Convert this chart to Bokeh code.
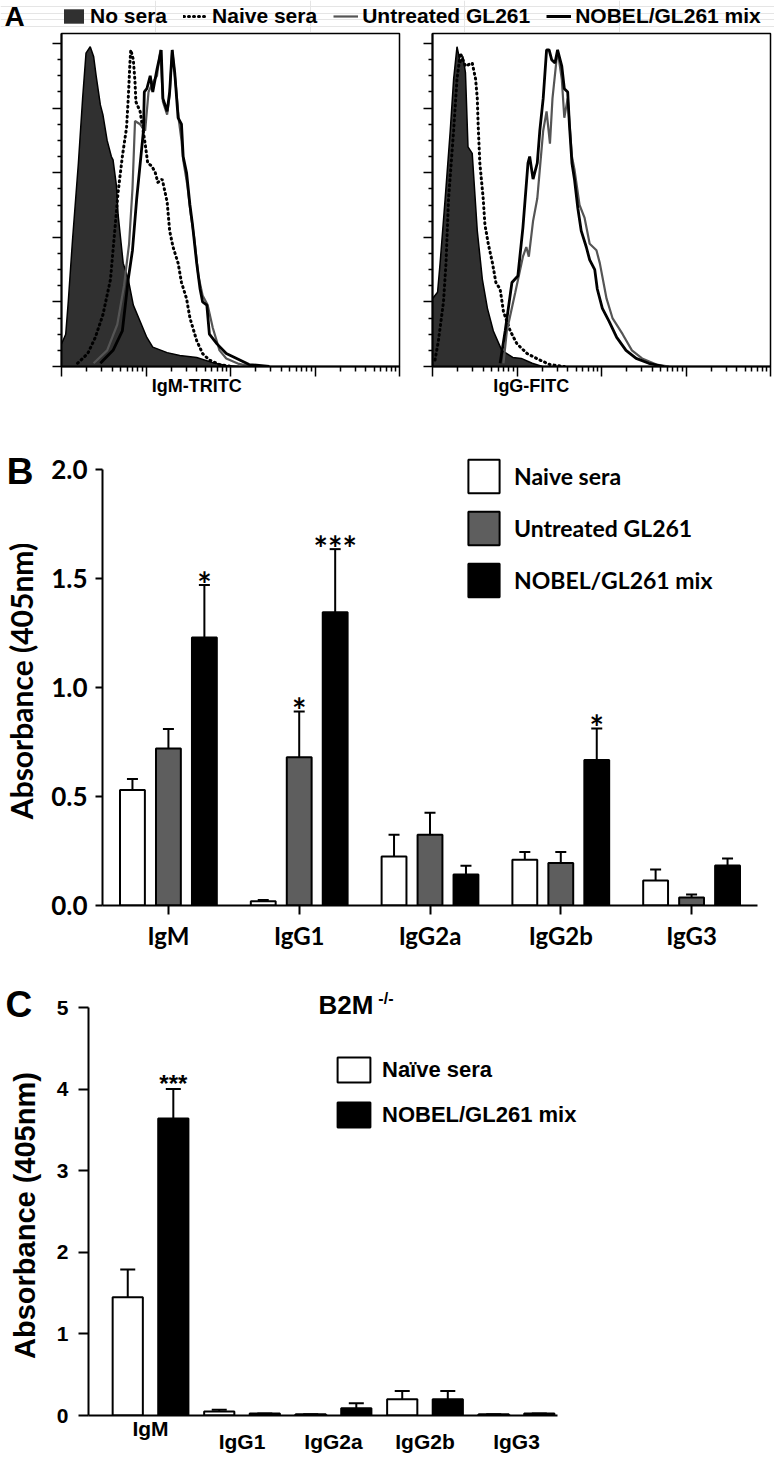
import numpy as np
from bokeh.plotting import figure
from bokeh.layouts import column, row
from bokeh.models import (ColumnDataSource, FixedTicker, Label, Legend, LegendItem,
                          Whisker, TeeHead, NumeralTickFormatter, CustomJSTickFormatter)
from bokeh.core.properties import value
from bokeh.embed import file_html
from bokeh.resources import INLINE

# ---------------- Panel A data (log10 fluorescence decade, % of max) ----------------
igm_nosera_dec = [0.0, 0.05, 0.08, 0.13, 0.2, 0.25, 0.29, 0.34, 0.38, 0.41, 0.46, 0.49, 0.54, 0.59, 0.61,
                  0.65, 0.67, 0.73, 0.79, 0.85, 0.93, 1.01, 1.08, 1.25, 1.4, 1.6, 1.79, 1.95, 2.1]
igm_nosera_pct = [7, 10, 20, 39, 63, 83, 97, 99, 96, 90, 81, 78, 70, 65, 64,
                  56, 47, 32, 27, 19, 14, 9, 6, 4.3, 3.4, 2.8, 1.2, 0.3, 0]
igm_naive_dec = [0.19, 0.31, 0.4, 0.49, 0.58, 0.61, 0.67, 0.72, 0.77, 0.79, 0.81, 0.82, 0.85, 0.87, 0.88,
                 0.93, 0.99, 1.02, 1.07, 1.11, 1.14, 1.19, 1.2, 1.25, 1.28, 1.32, 1.38, 1.42, 1.48, 1.52,
                 1.6, 1.67, 1.75, 1.87, 2.02]
igm_naive_pct = [1, 4, 9, 16, 27, 36, 54, 65, 74, 83, 94, 98, 95, 88, 82,
                 79, 69, 63, 62, 60, 57, 58, 57, 51, 42, 37, 32, 26, 21, 15,
                 8, 4, 2, 0.6, 0]
igm_untr_dec = [0.38, 0.54, 0.66, 0.74, 0.8, 0.84, 0.87, 0.93, 0.99, 1.03, 1.08, 1.13, 1.17, 1.2, 1.25,
                1.28, 1.31, 1.35, 1.39, 1.42, 1.44, 1.49, 1.53, 1.57, 1.62, 1.67, 1.73, 1.79, 1.87, 1.95,
                2.1, 2.25]
igm_untr_pct = [1, 5, 13, 25, 38, 55, 76, 75, 73, 85, 88, 90, 98, 82, 78,
                84, 98, 88, 76, 70, 64, 56, 47, 40, 28, 22, 19, 12, 5, 2.5,
                0.8, 0]
igm_nobel_dec = [0.46, 0.61, 0.72, 0.79, 0.84, 0.89, 0.97, 0.98, 1.01, 1.05, 1.08, 1.13, 1.18, 1.2, 1.25,
                 1.28, 1.31, 1.34, 1.38, 1.42, 1.44, 1.48, 1.52, 1.55, 1.6, 1.64, 1.67, 1.72, 1.75, 1.84,
                 1.95, 2.11, 2.22, 2.46]
igm_nobel_pct = [1, 5, 11, 27, 36, 52, 73, 85, 86, 90, 85, 92, 98, 83, 79,
                 85, 98, 91, 77, 75, 65, 60, 50, 44, 32, 24, 20, 19, 10, 7,
                 4, 2, 0.6, 0]

igg_nosera_dec = [0.0, 0.0, 0.06, 0.09, 0.15, 0.21, 0.25, 0.29, 0.33, 0.36, 0.39, 0.42, 0.47, 0.53, 0.59,
                  0.65, 0.72, 0.82, 0.95, 1.05, 1.18, 1.3]
igg_nosera_pct = [0, 21, 23, 32, 52, 73, 89, 99, 94, 96, 91, 68, 66, 42, 27,
                  18, 11, 5, 2.8, 2.5, 1, 0]
igg_naive_dec = [0.03, 0.07, 0.13, 0.16, 0.19, 0.25, 0.29, 0.33, 0.39, 0.47, 0.51, 0.53, 0.54, 0.56, 0.6,
                 0.62, 0.66, 0.71, 0.75, 0.8, 0.84, 0.92, 1.0, 1.12, 1.27, 1.39, 1.56]
igg_naive_pct = [2, 8, 20, 32, 52, 73, 89, 97, 93, 94, 89, 83, 75, 63, 52,
                 44, 38, 32, 26, 24, 17, 11, 7, 4, 2, 0.6, 0]
igg_untr_dec = [0.84, 0.88, 0.98, 1.07, 1.11, 1.14, 1.19, 1.24, 1.31, 1.35, 1.39, 1.42, 1.48, 1.53, 1.56,
                1.6, 1.65, 1.68, 1.74, 1.8, 1.86, 1.94, 1.98, 2.06, 2.13, 2.25, 2.36, 2.48, 2.65, 2.8]
igg_untr_pct = [1, 11, 23, 34, 37, 34, 45, 52, 73, 79, 69, 83, 98, 89, 77,
                83, 65, 61, 50, 46, 38, 36, 32, 21, 15, 10, 5, 2.5, 0.6, 0]
igg_nobel_dec = [0.8, 0.86, 0.94, 1.01, 1.07, 1.13, 1.15, 1.19, 1.24, 1.27, 1.31, 1.35, 1.38, 1.41, 1.45,
                 1.48, 1.53, 1.56, 1.6, 1.62, 1.65, 1.68, 1.72, 1.76, 1.82, 1.86, 1.92, 1.95, 2.01, 2.09,
                 2.18, 2.29, 2.41, 2.56, 2.74]
igg_nobel_pct = [1, 11, 26, 28, 43, 63, 65, 58, 63, 73, 83, 98, 98, 95, 94,
                 98, 93, 86, 85, 75, 63, 58, 49, 42, 37, 33, 30, 24, 18, 14,
                 9, 5, 2.5, 1, 0]

# ---------------- Panel B data ----------------
isotypes = ["IgM", "IgG1", "IgG2a", "IgG2b", "IgG3"]
b_naive = [0.53, 0.02, 0.225, 0.21, 0.115]
b_naive_sem = [0.05, 0.005, 0.10, 0.035, 0.05]
b_untr = [0.72, 0.68, 0.325, 0.195, 0.037]
b_untr_sem = [0.09, 0.21, 0.10, 0.05, 0.013]
b_nobel = [1.23, 1.345, 0.142, 0.667, 0.184]
b_nobel_sem = [0.24, 0.29, 0.04, 0.145, 0.032]
b_naive_sig = ["", "", "", "", ""]
b_untr_sig = ["", "*", "", "", ""]
b_nobel_sig = ["*", "***", "", "*", ""]

# ---------------- Panel C data (B2M-/-) ----------------
c_naive = [1.45, 0.05, 0.015, 0.2, 0.015]
c_naive_sem = [0.34, 0.02, 0.0, 0.1, 0.0]
c_nobel = [3.64, 0.025, 0.09, 0.2, 0.025]
c_nobel_sem = [0.36, 0.0, 0.06, 0.1, 0.0]
c_naive_sig = ["", "", "", "", ""]
c_nobel_sig = ["***", "", "", "", ""]

W = 774
SANS = "Liberation Sans"
LATO = "Lato"


def blank():
    return CustomJSTickFormatter(code="return ''")


# ---------------- legend strip for panel A ----------------
strip = figure(width=W, height=32, x_range=(0, 1), y_range=(0, 1), x_axis_location=None,
               y_axis_location=None, output_backend="svg", toolbar_location=None,
               min_border=0, outline_line_color=None)
hid_x = [-5, -4]
hid_y = [-5, -5]
r_ns = strip.varea(x=hid_x, y1=hid_y, y2=[-4, -4], fill_color="#303030")
r_nv = strip.line(x=hid_x, y=hid_y, line_color="black", line_width=3, line_dash="1 4", line_cap="round")
r_un = strip.line(x=hid_x, y=hid_y, line_color="#555555", line_width=2.2)
r_no = strip.line(x=hid_x, y=hid_y, line_color="black", line_width=3)
legA = Legend(items=[LegendItem(label="No sera", renderers=[r_ns]),
                     LegendItem(label="Naive sera", renderers=[r_nv]),
                     LegendItem(label="Untreated GL261", renderers=[r_un]),
                     LegendItem(label="NOBEL/GL261 mix", renderers=[r_no])],
              orientation="horizontal", location=(61, 4), glyph_width=25, glyph_height=18,
              label_height=20, label_standoff=4, spacing=16, padding=0, margin=0,
              border_line_color=None, background_fill_alpha=0, label_text_color="black",
              label_text_font=SANS, label_text_font_style="bold", label_text_font_size="21px",
              label_text_baseline="middle")
strip.add_layout(legA)
strip.add_layout(Label(x=4, y=16, x_units="screen", y_units="screen", text="A",
                       text_font=SANS, text_font_style="bold", text_font_size="28px",
                       text_baseline="middle", text_align="left", text_color="black"))

# ---------------- panel A histograms ----------------
x_major = [1, 10, 100, 1000, 10000]
x_minor = [m * 10 ** k for k in range(4) for m in range(2, 10)]
y_major = [0, 20, 40, 60, 80, 100]
y_minor = [v for v in range(0, 101, 5) if v % 20]


def hist_panel(width, mbl, mbr, nosera, naive, untr, nobel, xlabel, lab_dec):
    p = figure(width=width, height=371, x_axis_type="log", x_range=(1, 1e4), y_range=(0, 103.1),
               output_backend="svg", toolbar_location=None, min_border_left=mbl,
               min_border_right=mbr, min_border_top=1, min_border_bottom=37)
    p.grid.visible = False
    p.outline_line_color = "black"
    p.outline_line_width = 1.5
    p.xaxis.ticker = FixedTicker(ticks=x_major, minor_ticks=x_minor)
    p.yaxis.ticker = FixedTicker(ticks=y_major, minor_ticks=y_minor)
    for ax in p.axis:
        ax.formatter = blank()
        ax.major_label_text_font_size = "1px"
        ax.axis_line_width = 2
        ax.major_tick_line_width = 1.5
        ax.minor_tick_line_width = 1.5
        ax.major_tick_in = 0
        ax.minor_tick_in = 0
        ax.major_label_standoff = 0
    p.xaxis.major_tick_out = 10
    p.xaxis.minor_tick_out = 5
    p.yaxis.major_tick_out = 9
    p.yaxis.minor_tick_out = 4

    d, v = nosera
    xs = [10 ** t for t in d]
    p.varea(x=xs, y1=[0] * len(xs), y2=v, fill_color="#303030")
    p.line(x=xs, y=v, line_color="black", line_width=1.5)
    d, v = naive
    p.line(x=[10 ** t for t in d], y=v, line_color="black", line_width=3, line_dash="1 4",
           line_cap="round")
    d, v = untr
    p.line(x=[10 ** t for t in d], y=v, line_color="#555555", line_width=2.2)
    d, v = nobel
    p.line(x=[10 ** t for t in d], y=v, line_color="black", line_width=2.8)
    p.add_layout(Label(x=10 ** lab_dec, y=-5.9, text=xlabel, text_color="black",
                       text_font=SANS, text_font_style="bold", text_font_size="18px",
                       text_align="center", text_baseline="middle"), "below")
    return p


A1 = hist_panel(415, 61, 16, (igm_nosera_dec, igm_nosera_pct), (igm_naive_dec, igm_naive_pct),
                (igm_untr_dec, igm_untr_pct), (igm_nobel_dec, igm_nobel_pct), "IgM-TRITC", 1.6)
A2 = hist_panel(359, 17, 4, (igg_nosera_dec, igg_nosera_pct), (igg_naive_dec, igg_naive_pct),
                (igg_untr_dec, igg_untr_pct), (igg_nobel_dec, igg_nobel_pct), "IgG-FITC", 1.17)

# ---------------- panel B ----------------
pB = figure(width=W, height=557, x_range=(-0.504, 4.504), y_range=(0, 2.06),
            output_backend="svg", toolbar_location=None, min_border_left=101,
            min_border_right=17, min_border_top=53, min_border_bottom=55)
pB.grid.visible = False
pB.outline_line_color = None
idx = np.arange(len(isotypes))
offB = 0.275
rendB = []
for vals, sem, sig, col, name, o in [(b_naive, b_naive_sem, b_naive_sig, "white", "Naive sera", -offB),
                                     (b_untr, b_untr_sem, b_untr_sig, "#5e5e5e", "Untreated GL261", 0.0),
                                     (b_nobel, b_nobel_sem, b_nobel_sig, "black", "NOBEL/GL261 mix", offB)]:
    src = ColumnDataSource(dict(x=idx + o, top=vals, upper=np.array(vals) + np.array(sem), sig=sig))
    r = pB.vbar(x="x", top="top", width=0.19, source=src, fill_color=col, line_color="black",
                line_width=2)
    pB.add_layout(Whisker(source=src, base="x", upper="upper", lower="top", line_width=2,
                          line_color="black", lower_head=None,
                          upper_head=TeeHead(size=11, line_width=2, line_color="black")))
    pB.text(x="x", y="upper", text="sig", source=src, text_align="center",
            text_baseline="middle", y_offset=-2, text_font=value(LATO),
            text_font_style="bold", text_font_size="34px", text_color="black")
    rendB.append((name, r))

pB.xaxis.ticker = FixedTicker(ticks=list(idx))
pB.xaxis.major_label_overrides = {int(i): n for i, n in zip(idx, isotypes)}
pB.yaxis.ticker = FixedTicker(ticks=[0, 0.5, 1.0, 1.5, 2.0])
pB.yaxis.formatter = NumeralTickFormatter(format="0.0")
pB.yaxis.bounds = (0, 2.0)
for ax in pB.axis:
    ax.axis_line_width = 2
    ax.major_tick_line_width = 2
    ax.major_tick_in = 0
    ax.minor_tick_line_color = None
    ax.major_label_text_font = LATO
    ax.major_label_text_font_style = "bold"
    ax.major_label_text_color = "black"
pB.xaxis.major_label_text_font_size = "24px"
pB.yaxis.major_label_text_font_size = "26px"
pB.xaxis.major_tick_out = 9
pB.xaxis.major_label_standoff = 6
pB.yaxis.major_tick_out = 7
pB.yaxis.major_label_standoff = 8
pB.yaxis.axis_label = "Absorbance (405nm)"
pB.yaxis.axis_label_text_font = LATO
pB.yaxis.axis_label_text_font_style = "bold"
pB.yaxis.axis_label_text_font_size = "30px"
pB.yaxis.axis_label_text_color = "black"
pB.yaxis.axis_label_standoff = 9
legB = Legend(items=[LegendItem(label=n, renderers=[r]) for n, r in rendB],
              location=(362, 304), orientation="vertical", glyph_width=39, glyph_height=42,
              label_height=42, label_standoff=11, spacing=10, padding=0, margin=0,
              border_line_color=None, background_fill_alpha=0, label_text_font=LATO,
              label_text_color="black", label_text_font_style="bold", label_text_font_size="23px")
pB.add_layout(legB)
pB.add_layout(Label(x=-1.237, y=1.989, text="B", text_font=SANS, text_font_style="bold",
                    text_color="black", text_font_size="37px", text_baseline="middle",
                    text_align="left"), "above")

# ---------------- panel C ----------------
pC = figure(width=W, height=499, x_range=(-0.678, 4.918), y_range=(0, 5),
            output_backend="svg", toolbar_location=None, min_border_left=88,
            min_border_right=174, min_border_top=47, min_border_bottom=44)
pC.grid.visible = False
pC.outline_line_color = None
offC = 0.249
rendC = []
for vals, sem, sig, col, name, o in [(c_naive, c_naive_sem, c_naive_sig, "white", "Naïve sera", -offC),
                                     (c_nobel, c_nobel_sem, c_nobel_sig, "black", "NOBEL/GL261 mix", offC)]:
    src = ColumnDataSource(dict(x=idx + o, top=vals, upper=np.array(vals) + np.array(sem), sig=sig))
    r = pC.vbar(x="x", top="top", width=0.33, source=src, fill_color=col, line_color="black",
                line_width=2)
    pC.add_layout(Whisker(source=src, base="x", upper="upper", lower="top", line_width=2,
                          line_color="black", lower_head=None,
                          upper_head=TeeHead(size=15, line_width=2, line_color="black")))
    pC.text(x="x", y="upper", text="sig", source=src, text_align="center",
            text_baseline="middle", y_offset=-6, text_font=value(SANS),
            text_font_style="bold", text_font_size="24px", text_color="black")
    rendC.append((name, r))

pC.xaxis.ticker = FixedTicker(ticks=list(idx))
c_tick_labels = {int(i): n for i, n in zip(idx, isotypes)}
c_tick_labels[0] = ""          # the IgM label sits a little higher, drawn below as its own text
pC.xaxis.major_label_overrides = c_tick_labels
pC.xaxis.major_tick_line_color = None
pC.xaxis.bounds = (-0.678, 4.448)
pC.yaxis.ticker = FixedTicker(ticks=[0, 1, 2, 3, 4, 5])
for ax in pC.axis:
    ax.axis_line_width = 2
    ax.major_tick_line_width = 2
    ax.major_tick_in = 0
    ax.minor_tick_line_color = None
    ax.major_label_text_font = SANS
    ax.major_label_text_font_style = "bold"
    ax.major_label_text_font_size = "21px"
    ax.major_label_text_color = "black"
pC.xaxis.major_label_standoff = 8
pC.yaxis.major_tick_out = 10
pC.yaxis.major_label_standoff = 10
pC.yaxis.axis_label = "Absorbance  (405nm)"
pC.yaxis.axis_label_text_font = SANS
pC.yaxis.axis_label_text_font_style = "bold"
pC.yaxis.axis_label_text_font_size = "29px"
pC.yaxis.axis_label_text_color = "black"
pC.yaxis.axis_label_standoff = 13
legC = Legend(items=[LegendItem(label=n, renderers=[r]) for n, r in rendC],
              location=(245, 285), orientation="vertical", glyph_width=41, glyph_height=31,
              label_height=31, label_standoff=8, spacing=14, padding=0, margin=0,
              border_line_color=None, background_fill_alpha=0, label_text_font=SANS,
              label_text_color="black", label_text_font_style="bold", label_text_font_size="22px")
pC.add_layout(legC)
pC.add_layout(Label(x=-1.585, y=5.037, text="C", text_font=SANS, text_font_style="bold",
                    text_color="black", text_font_size="37px", text_baseline="middle",
                    text_align="left"), "right")
pC.add_layout(Label(x=1.836, y=5.025, text="B2M", text_font=SANS, text_font_style="bold",
                    text_color="black", text_font_size="26px", text_baseline="middle",
                    text_align="left"), "right")
pC.add_layout(Label(x=2.49, y=5.11, text="-/-", text_font=SANS, text_font_style="bold",
                    text_color="black", text_font_size="16px", text_baseline="middle",
                    text_align="left"), "right")
pC.add_layout(Label(x=0, y=-0.16, text=isotypes[0], text_font=SANS, text_font_style="bold",
                    text_color="black", text_font_size="21px", text_baseline="middle",
                    text_align="center"), "right")

layout = column(row(strip), row(A1, A2), row(pB), row(pC))
with open("out.html", "w") as f:
    f.write(file_html(layout, INLINE))
